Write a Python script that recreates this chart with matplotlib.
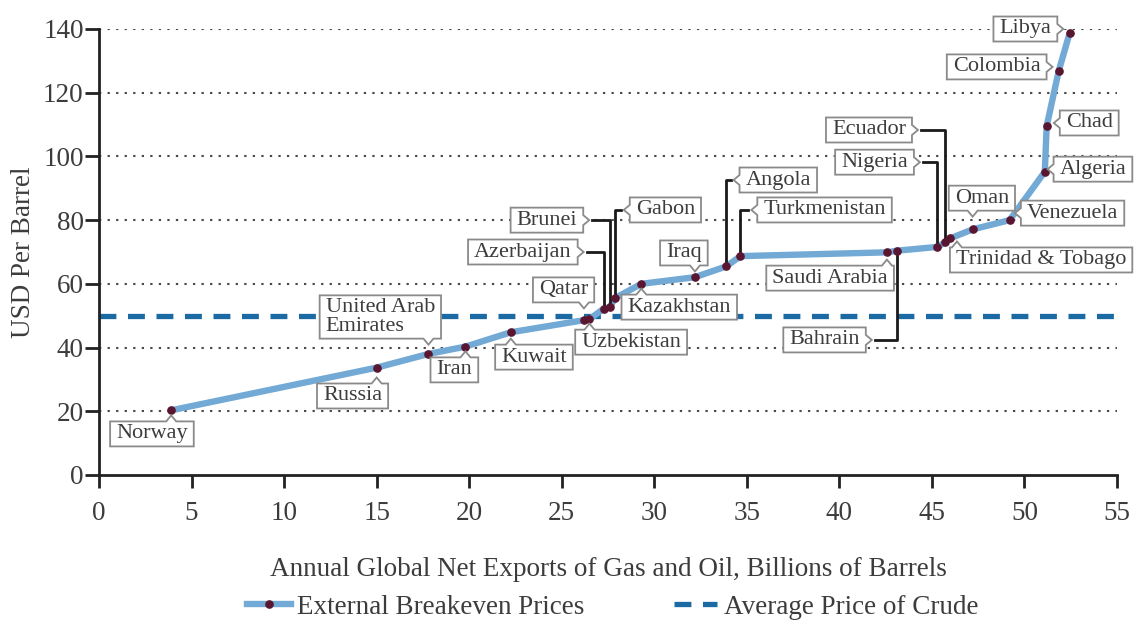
import numpy as np
import matplotlib
matplotlib.use("Agg")
import matplotlib.pyplot as plt
from matplotlib.patches import Polygon
from matplotlib.lines import Line2D
from matplotlib.transforms import IdentityTransform

# ---------------- data ----------------
countries = ["Norway", "Russia", "United Arab\nEmirates", "Iran", "Kuwait", "Qatar",
             "Uzbekistan", "Azerbaijan", "Brunei", "Gabon", "Kazakhstan", "Iraq",
             "Angola", "Turkmenistan", "Saudi Arabia", "Bahrain", "Nigeria", "Ecuador",
             "Trinidad & Tobago", "Oman", "Venezuela", "Algeria", "Chad", "Colombia", "Libya"]
exports = [3.9, 15.0, 17.8, 19.8, 22.25, 26.2, 26.5, 27.26, 27.6, 27.9, 29.3, 32.2,
           33.9, 34.65, 42.6, 43.1, 45.3, 45.7, 46.0, 47.2, 49.2, 51.1, 51.2, 51.85, 52.45]
breakeven = [20.3, 33.7, 38.0, 40.3, 44.8, 48.6, 48.9, 52.2, 52.8, 55.6, 60.0, 62.1,
             65.5, 68.7, 69.9, 70.4, 71.6, 73.0, 74.3, 77.1, 80.0, 95.2, 109.5, 126.8, 138.9]
avg_crude = 50
x_ticks = list(range(0, 56, 5))
y_ticks = list(range(0, 141, 20))

# label placement (text centre in data coords), pointer side, leader line
label_x = [2.86, 13.7, 15.2, 19.2, 23.5, 25.1, 28.75, 22.9, 24.2, 30.6, 31.35, 31.6,
           36.7, 39.2, 39.5, 39.2, 41.9, 41.6, 50.9, 47.7, 52.6, 53.7, 53.5, 48.5, 50.05]
label_y = [12.9, 24.8, 49.6, 33.0, 37.0, 58.1, 41.7, 70.0, 80.0, 83.2, 52.7, 69.7,
           92.6, 83.2, 61.8, 42.4, 98.2, 108.3, 67.5, 86.9, 82.2, 96.0, 110.5, 128.1, 140.0]
sides = ["top", "top", "bottom", "top", "top", "bottom", "top", "right", "right", "left",
         "top", "bottom", "left", "left", "top", "right", "right", "right", "top", "bottom",
         "left", "left", "left", "right", "right"]
leaders = ["Azerbaijan", "Brunei", "Gabon", "Angola", "Turkmenistan", "Bahrain",
           "Nigeria", "Ecuador"]

# ---------------- style ----------------
FONT = "Liberation Serif"
TXT = "#3c3c3c"
LINE_C = "#72a9d5"
DOT_C = "#5a1630"
AVG_C = "#1b6aa3"

plt.rcParams["font.family"] = [FONT, "DejaVu Serif"]

fig = plt.figure(figsize=(11.35, 6.25), dpi=100)
ax = fig.add_axes([99 / 1135, 1 - 475 / 625, (1117 - 99) / 1135, (475 - 29) / 625])
ax.set_xlim(0, 55)
ax.set_ylim(0, 140)

for yv in y_ticks[1:]:
    ax.axhline(yv, color="#4a4a4a", lw=1.5, linestyle=(0, (1.1, 3.0)), zorder=1)

ax.axhline(avg_crude, color=AVG_C, lw=3.8, dashes=(3.2, 2.2), zorder=2)
ax.plot(exports, breakeven, color=LINE_C, lw=4.6, solid_capstyle="round",
        solid_joinstyle="round", zorder=3)
ax.plot(exports, breakeven, linestyle="none", marker="o", ms=5.2, color=DOT_C, zorder=6)

for s in ["top", "right"]:
    ax.spines[s].set_visible(False)
for s in ["left", "bottom"]:
    ax.spines[s].set_linewidth(2)
    ax.spines[s].set_color("#222222")
ax.set_xticks(x_ticks)
ax.set_yticks(y_ticks)
ax.tick_params(axis="both", direction="out", width=2, color="#222222",
               labelsize=19.5, labelcolor=TXT)
ax.tick_params(axis="y", length=10, pad=1)
ax.tick_params(axis="x", length=9, pad=10)
ax.set_xlabel("Annual Global Net Exports of Gas and Oil, Billions of Barrels",
              fontsize=19.5, color=TXT, labelpad=22)
ax.set_ylabel("USD Per Barrel", fontsize=19.5, color=TXT, labelpad=5)

# labels
texts = []
for name, lx, ly in zip(countries, label_x, label_y):
    t = ax.text(lx, ly, name, ha="center", va="center", fontsize=16, color=TXT,
                multialignment="left", linespacing=0.95, zorder=8, clip_on=False)
    texts.append(t)

h1 = Line2D([], [], color=LINE_C, lw=4.6, marker="o", ms=5.2, markerfacecolor=DOT_C,
            markeredgecolor=DOT_C)
h2 = Line2D([], [], color=AVG_C, lw=3.8, dashes=(3.2, 2.2))
fig.legend([h1, h2], ["External Breakeven Prices", "Average Price of Crude"],
           loc="center", bbox_to_anchor=(613 / 1135, 1 - 607 / 625), ncol=2,
           frameon=False, fontsize=19.5, handlelength=1.6, handletextpad=0.25,
           columnspacing=3.3, labelcolor=TXT)

fig.canvas.draw()
r = fig.canvas.get_renderer()
ident = IdentityTransform()
padx, pady = 6, 3
pw, ph = 5, 6
for t, name, side, px, py in zip(texts, countries, sides, exports, breakeven):
    bb = t.get_window_extent(r)
    x0, x1 = bb.x0 - padx, bb.x1 + padx
    y0, y1 = bb.y0 - pady, bb.y1 + pady
    dx, dy = ax.transData.transform((px, py))
    cy = (y0 + y1) / 2
    if side == "top":
        cx = np.clip(dx, x0 + pw + 2, x1 - pw - 2)
        pts = [(x0, y0), (x1, y0), (x1, y1), (cx + pw, y1), (cx, y1 + ph), (cx - pw, y1), (x0, y1)]
        tip = (cx, y1 + ph)
    elif side == "bottom":
        cx = np.clip(dx, x0 + pw + 2, x1 - pw - 2)
        pts = [(x0, y0), (cx - pw, y0), (cx, y0 - ph), (cx + pw, y0), (x1, y0), (x1, y1), (x0, y1)]
        tip = (cx, y0 - ph)
    elif side == "right":
        pts = [(x0, y0), (x1, y0), (x1, cy - pw), (x1 + ph, cy), (x1, cy + pw), (x1, y1), (x0, y1)]
        tip = (x1 + ph, cy)
    else:
        pts = [(x0, y0), (x1, y0), (x1, y1), (x0, y1), (x0, cy + pw), (x0 - ph, cy), (x0, cy - pw)]
        tip = (x0 - ph, cy)
    poly = Polygon(pts, closed=True, facecolor="white", edgecolor="#8a8a8a", lw=1.3,
                   transform=ident, zorder=7, clip_on=False)
    ax.add_artist(poly)
    if name in leaders:
        gap = 3 if side == "right" else -3
        ln = Line2D([tip[0] + gap, dx, dx], [tip[1], tip[1], dy], color="#1a1a1a", lw=2,
                    transform=ident, zorder=4, clip_on=False)
        ax.add_artist(ln)

fig.savefig("out.png", dpi=100)
